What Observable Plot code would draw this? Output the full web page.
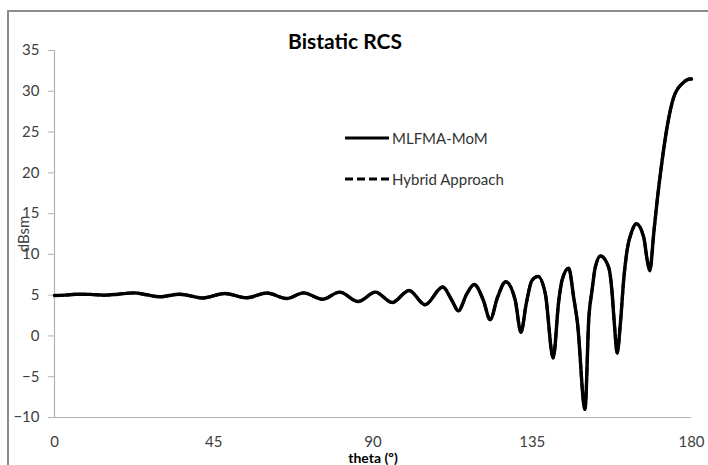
<!DOCTYPE html>
<html>
<head>
<meta charset="utf-8">
<script src="https://cdn.jsdelivr.net/npm/d3@7"></script>
<script src="https://cdn.jsdelivr.net/npm/@observablehq/plot@0.6"></script>
<style>
  body { margin: 0; background: #fff; overflow: hidden; }
  #wrap { position: relative; width: 708px; height: 465px; overflow: hidden; font-family: Lato, "Open Sans", sans-serif; }
  #frame { position: absolute; left: 7px; top: 10px; width: 760px; height: 520px; border: 2px solid #8c8c8c; box-sizing: border-box; }
  #chart { position: absolute; left: 0; top: 0; }
  #title { position: absolute; top: 28px; left: 345px; transform: translateX(-50%); font-size: 21px; font-weight: bold; color: #000; white-space: nowrap; }
  #legend { position: absolute; left: 345px; top: 128px; font-size: 15px; color: #333; }
  #legend .item { display: flex; align-items: center; height: 20px; margin-bottom: 21px; }
  #legend svg { margin-right: 3px; }
  g[aria-label="x-axis label"] text { font-weight: bold; fill: #000; font-size: 14px; }
</style>
</head>
<body>
<div id="wrap">
  <div id="frame"></div>
  <div id="chart"></div>
  <div id="title"></div>
  <div id="legend"></div>
</div>
<script>
// Bistatic RCS versus scattering angle theta (degrees)
const theta = [
  0, 3, 6, 10, 14, 18, 22.4, 26, 29.7, 35.3,
  42, 48.1, 54.3, 60, 65.6, 70.4, 75.7, 80.6, 85.8, 90.7,
  95.4, 100.2, 104.7, 109.7, 112.3, 114.1, 116.5, 118.6, 121.2, 123.1,
  125.2, 127.5, 130.2, 131.8, 133.3, 134.9, 136.6, 138.7, 140.9, 142.5,
  143.4, 145.3, 146.7, 147.8, 149.9, 151, 151.9, 152.8, 154.3, 156.6,
  157.5, 158.2, 159, 159.9, 160.9, 161.8, 163.2, 164.4, 166.5, 167.5,
  168.2, 169.4, 170.3, 171.7, 173.1, 175, 177.8, 179.5, 180
];
// MLFMA-MoM solution (dBsm)
const mlfmaMoM = [
  4.95, 5.0, 5.12, 5.1, 5.0, 5.12, 5.28, 5.05, 4.8, 5.12,
  4.66, 5.2, 4.68, 5.27, 4.6, 5.28, 4.5, 5.37, 4.22, 5.37,
  4.1, 5.58, 3.82, 6.0, 4.35, 3.08, 5.16, 6.3, 4.35, 2.0,
  4.75, 6.65, 4.35, 0.45, 3.95, 6.8, 7.3, 5.16, -2.7, 4.35,
  6.8, 8.3, 4.75, 1.5, -9.0, 2.3, 5.6, 8.4, 9.8, 8.4,
  5.6, 1.5, -2.1, 1.5, 7.2, 10.5, 12.9, 13.75, 12.1, 9.25,
  8.0, 12.9, 16.6, 21.5, 25.6, 29.3, 31.1, 31.5, 31.5
];
// Hybrid approach (dBsm) – coincides with the MLFMA-MoM curve
const hybridApproach = [
  4.95, 5.0, 5.12, 5.1, 5.0, 5.12, 5.28, 5.05, 4.8, 5.12,
  4.66, 5.2, 4.68, 5.27, 4.6, 5.28, 4.5, 5.37, 4.22, 5.37,
  4.1, 5.58, 3.82, 6.0, 4.35, 3.08, 5.16, 6.3, 4.35, 2.0,
  4.75, 6.65, 4.35, 0.45, 3.95, 6.8, 7.3, 5.16, -2.7, 4.35,
  6.8, 8.3, 4.75, 1.5, -9.0, 2.3, 5.6, 8.4, 9.8, 8.4,
  5.6, 1.5, -2.1, 1.5, 7.2, 10.5, 12.9, 13.75, 12.1, 9.25,
  8.0, 12.9, 16.6, 21.5, 25.6, 29.3, 31.1, 31.5, 31.5
];
const xTicks = [0, 45, 90, 135, 180];
const yTicks = [-10, -5, 0, 5, 10, 15, 20, 25, 30, 35];
const seriesNames = ["MLFMA-MoM", "Hybrid Approach"];
const seriesDash = [null, "8,4"];
const chartTitle = "Bistatic RCS";
const xLabel = "theta (º)";
const yLabel = "dBsm";

const rows = theta.map((t, i) => ({ theta: t, mlfma: mlfmaMoM[i], hybrid: hybridApproach[i] }));

const axisGray = "#b3b3b3";
const textGray = "#404040";

const chart = Plot.plot({
  width: 708,
  height: 465,
  marginLeft: 54,
  marginRight: 17,
  marginTop: 50,
  marginBottom: 48,
  style: { fontFamily: "Lato, 'Open Sans', sans-serif", fontSize: "15px", background: "transparent", overflow: "visible" },
  x: { domain: [0, 180] },
  y: { domain: [-10, 35] },
  marks: [
    Plot.axisY(yTicks, {
      tickSize: 6, tickPadding: 9, stroke: axisGray, fill: textGray, fontSize: 15,
      label: yLabel, labelAnchor: "center", labelOffset: 36, labelArrow: "none"
    }),
    Plot.axisX(xTicks, {
      tickSize: 0, tickPadding: 19, fill: textGray, fontSize: 15,
      label: xLabel, labelAnchor: "center", labelOffset: 45, labelArrow: "none"
    }),
    Plot.ruleX([0], { stroke: axisGray, strokeWidth: 1.2 }),
    Plot.ruleY([-10], { stroke: axisGray, strokeWidth: 1.2 }),
    Plot.line(rows, { x: "theta", y: "hybrid", stroke: "#000", strokeWidth: 3, strokeDasharray: seriesDash[1], curve: "monotone-x" }),
    Plot.line(rows, { x: "theta", y: "mlfma", stroke: "#000", strokeWidth: 3.4, curve: "monotone-x" })
  ]
});
document.getElementById("chart").appendChild(chart);

document.getElementById("title").textContent = chartTitle;

const legend = document.getElementById("legend");
seriesNames.forEach((name, i) => {
  const item = document.createElement("div");
  item.className = "item";
  const dash = seriesDash[i] ? ` stroke-dasharray="${seriesDash[i]}"` : "";
  item.innerHTML = `<svg width="44" height="6"><line x1="0" y1="3" x2="44" y2="3" stroke="#000" stroke-width="3"${dash}/></svg><span>${name}</span>`;
  legend.appendChild(item);
});
</script>
</body>
</html>
